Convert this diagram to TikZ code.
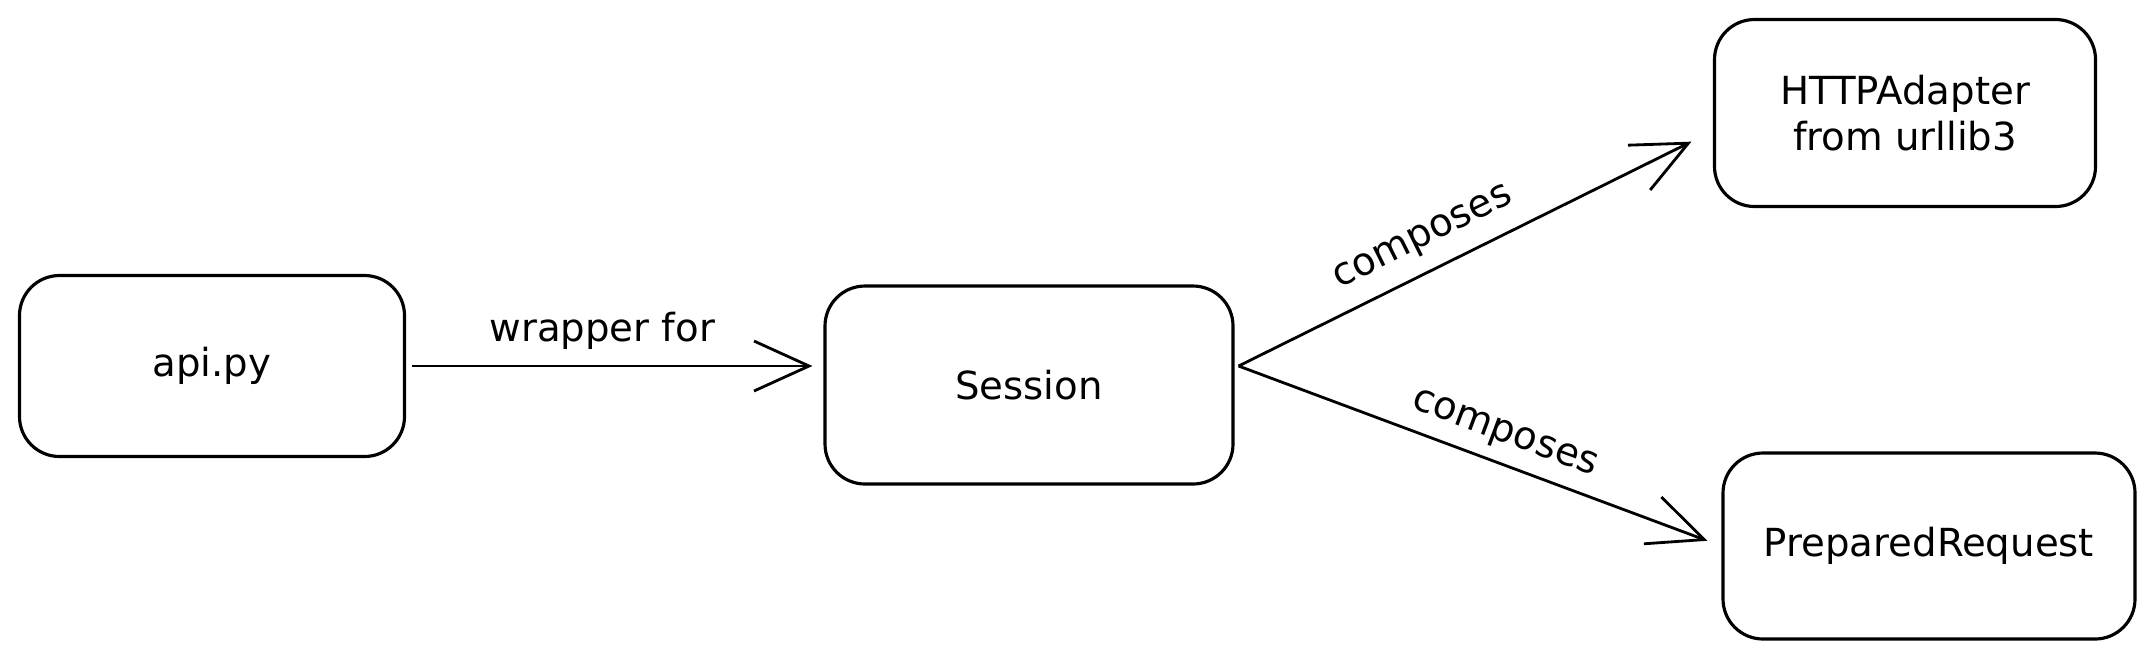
\documentclass[tikz,border=0pt]{standalone}
\usepackage{fontspec}
\setmainfont{DejaVu Sans}
\usepackage{tikz}
\usetikzlibrary{arrows.meta, positioning, calc}

\begin{document}
\begin{tikzpicture}[
    box/.style={rectangle,rounded corners=0.4cm,draw=black,line width=0.9pt,align=center,font=\fontsize{11}{13}\selectfont},
    link/.style={draw=black,line width=0.8pt,-{Straight Barb[length=5.5mm,width=5mm]}},
    lbl/.style={font=\fontsize{11}{13}\selectfont}
]
    \useasboundingbox (0,0) rectangle (21.56,-6.6);

    % Client
    \node[box,minimum width=3.85cm,minimum height=1.81cm] (api) at (2.12,-3.66) {api.py};

    % Session
    \node[box,minimum width=4.08cm,minimum height=1.98cm] (session) at (10.29,-3.85) {Session};

    % Componenti
    \node[box,minimum width=3.81cm,minimum height=1.87cm] (adapter) at (19.05,-1.13) {HTTPAdapter\\from urllib3};
    \node[box,minimum width=4.12cm,minimum height=1.86cm] (prepared) at (19.29,-5.46) {PreparedRequest};

    % Frecce
    \coordinate (fork) at ($(session.east |- api.east)+(0.04,0)$);
    \draw[link,shorten <=0.06cm,shorten >=0.11cm] (api.east) -- (api.east -| session.west)
        node[lbl,pos=0.47,above=1pt] {wrapper for};
    \draw[link,shorten >=2.4mm] (fork) -- ([yshift=-1.8mm]adapter.west)
        node[lbl,pos=0.42,sloped,above=1pt] {composes};
    \draw[link,shorten >=1.5mm] (fork) -- (prepared.west)
        node[lbl,pos=0.53,sloped,above] {composes};
\end{tikzpicture}
\end{document}
